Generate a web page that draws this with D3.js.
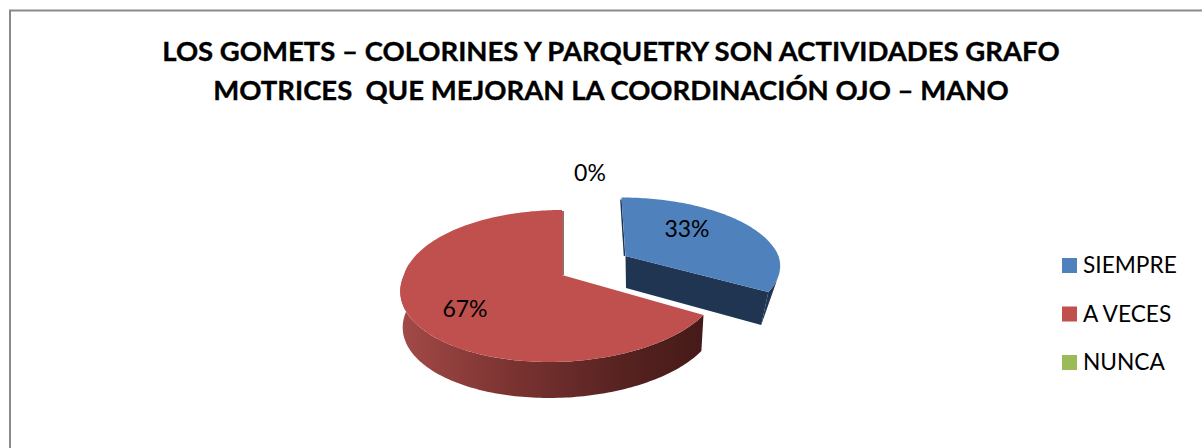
<!DOCTYPE html>
<html>
<head>
<meta charset="utf-8">
<script src="https://cdn.jsdelivr.net/npm/d3@7"></script>
<style>
  html, body { margin: 0; padding: 0; background: #fff; }
  svg { display: block; }
  text { font-family: Lato, "Open Sans", sans-serif; fill: #000; }
</style>
</head>
<body>
<svg id="chart" width="1202" height="448"></svg>
<script>
// Data
var categories = ["SIEMPRE", "A VECES", "NUNCA"];
var values = [33.33, 66.67, 0];
var percentLabels = ["33%", "67%", "0%"];
var titleLines = [
    "LOS GOMETS \u2013 COLORINES Y PARQUETRY SON ACTIVIDADES GRAFO",
    "MOTRICES  QUE MEJORAN LA COORDINACI\u00d3N OJO \u2013 MANO"
];

var colors = d3.scaleOrdinal().domain(categories).range(["#4f81bd", "#c0504d", "#9bbb59"]);
var svg = d3.select("#chart");

// Frame, left and top only run to the picture edge
svg.append("path")
    .attr("d", "M10,448V10.5H1202")
    .attr("fill", "none")
    .attr("stroke", "#8a8a8a")
    .attr("stroke-width", 2);

svg.selectAll("text.title")
    .data(titleLines)
    .enter()
    .append("text")
    .attr("class", "title")
    .attr("x", 611)
    .attr("y", function(d, i) { return 61 + i * 39; })
    .attr("text-anchor", "middle")
    .attr("font-size", 27.5)
    .attr("font-weight", 700)
    .attr("stroke", "#000")
    .attr("stroke-width", 0.35)
    .style("white-space", "pre")
    .text(function(d) { return d; });

// Pie angles come from d3.pie, the 3D look is a small projection on top
var arcs = d3.pie().sort(null).value(function(d) { return d; })(values);

// One view per drawn slice: apex, radius, squash and wall height
var views = {
    "SIEMPRE": { cx: 625.5, cy: 256, r: 153, sy: 0.9, topShear: 0.07, lowShear: 0, depth: 33, downScale: 0.95 },
    "A VECES": { cx: 562, cy: 275, r: 158, sy: 1, topShear: 0, lowShear: 0.15, depth: 36, downScale: 0.985 }
};
var persp = 0.1447;

function project(view, angle, radius, down) {
    var u = Math.sin(angle) * radius;
    var v = Math.cos(angle) * radius;
    var w = 1 + persp * v;
    var y = -74.4 * view.sy * v / w;
    var x = view.r * u / w;
    x += y < 0 ? view.topShear * y : -view.lowShear * y;
    if (down) x *= view.downScale;
    return [view.cx + x, view.cy + y + (down ? view.depth : 0)];
}

function ring(view, a0, a1, down) {
    var n = Math.max(2, Math.ceil(Math.abs(a1 - a0) / 0.02));
    return d3.range(n + 1).map(function(i) {
        return project(view, a0 + (a1 - a0) * i / n, 1, down);
    });
}

var line = d3.line();

var defs = svg.append("defs");
var wallGrad = defs.append("linearGradient")
    .attr("id", "wallRed")
    .attr("gradientUnits", "userSpaceOnUse")
    .attr("x1", 400).attr("x2", 703).attr("y1", 0).attr("y2", 0);
wallGrad.append("stop").attr("offset", "0").attr("stop-color", "#a34a47");
wallGrad.append("stop").attr("offset", "0.35").attr("stop-color", "#7c3432");
wallGrad.append("stop").attr("offset", "0.75").attr("stop-color", "#552220");
wallGrad.append("stop").attr("offset", "1").attr("stop-color", "#451a18");

var pieG = svg.append("g").attr("class", "pie");

// Red slice
var redArc = arcs[1];
var redView = views["A VECES"];
var redOuter = ring(redView, redArc.startAngle, Math.PI * 1.55, false);
var redLower = ring(redView, Math.PI * 1.55, redArc.startAngle, true);
pieG.append("path")
    .attr("d", line(redOuter.concat(redLower)) + "Z")
    .attr("fill", "url(#wallRed)");
// thin inner wall along the closing edge
var redTop = project(redView, redArc.endAngle, 1, false);
pieG.append("path")
    .attr("d", line([[redView.cx + 1, redTop[1] + 1], [redView.cx + 1, redView.cy]]))
    .attr("stroke", "#7c3432")
    .attr("stroke-width", 1.5)
    .attr("fill", "none");
pieG.append("path")
    .attr("d", line([[redView.cx, redView.cy]].concat(ring(redView, redArc.startAngle, redArc.endAngle, false))) + "Z")
    .attr("fill", colors("A VECES"));

// Blue slice, its outer wall is almost a straight edge in the picture
var blueArc = arcs[0];
var blueView = views["SIEMPRE"];
var blueOuter = ring(blueView, 1.85, blueArc.endAngle, false);
var blueCornerDown = project(blueView, blueArc.endAngle, 1, true);
var blueApexDown = [blueView.cx + 0.5, blueView.cy + blueView.depth - 1];
var blueTop = project(blueView, blueArc.startAngle, 1, false);
pieG.append("path")
    .attr("d", line(blueOuter.concat([blueCornerDown])) + "Z")
    .attr("fill", "#1f3552");
pieG.append("path")
    .attr("d", line([[blueView.cx, blueView.cy], project(blueView, blueArc.endAngle, 1, false),
        blueCornerDown, blueApexDown]) + "Z")
    .attr("fill", "#1f3552");
// dark sliver on the left cut of the blue slice
pieG.append("path")
    .attr("d", line([[blueTop[0] - 0.5, blueTop[1] + 2], [blueView.cx - 1, blueView.cy]]))
    .attr("stroke", "#1f3552")
    .attr("stroke-width", 1.5)
    .attr("fill", "none");
pieG.append("path")
    .attr("d", line([[blueView.cx, blueView.cy]].concat(ring(blueView, blueArc.startAngle, blueArc.endAngle, false))) + "Z")
    .attr("fill", colors("SIEMPRE"));

// Percent labels
var labelAt = { "SIEMPRE": [687, 237], "A VECES": [465, 317], "NUNCA": [590, 181] };
svg.selectAll("text.pct")
    .data(categories)
    .enter()
    .append("text")
    .attr("class", "pct")
    .attr("x", function(d) { return labelAt[d][0]; })
    .attr("y", function(d) { return labelAt[d][1]; })
    .attr("text-anchor", "middle")
    .attr("font-size", 23)
    .text(function(d, i) { return percentLabels[i]; });

// Legend
var legendY = d3.scalePoint().domain(categories).range([265.5, 362.5]);
var legend = svg.selectAll("g.legend")
    .data(categories)
    .enter()
    .append("g")
    .attr("class", "legend")
    .attr("transform", function(d) { return "translate(1062," + legendY(d) + ")"; });
legend.append("rect")
    .attr("width", 15)
    .attr("height", 15)
    .attr("y", -7.5)
    .attr("fill", function(d) { return colors(d); });
legend.append("text")
    .attr("x", 21)
    .attr("y", 7.5)
    .attr("font-size", 22.7)
    .text(function(d) { return d; });
</script>
</body>
</html>
